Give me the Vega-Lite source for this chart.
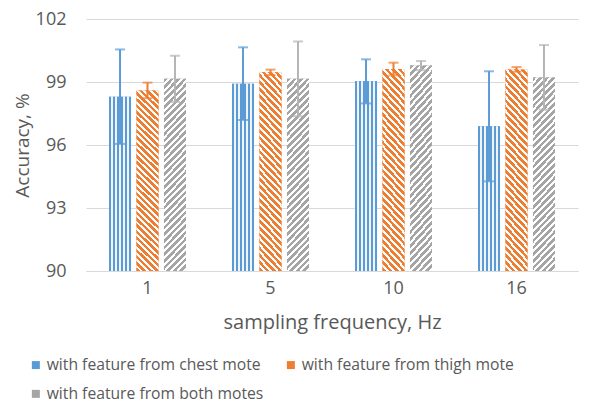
{
  "$schema": "https://vega.github.io/schema/vega-lite/v6.json",
  "width": 492,
  "height": 252,
  "autosize": "none",
  "padding": {"left": 86, "top": 19, "right": 20, "bottom": 132},
  "background": "white",
  "config": {
    "font": "Open Sans",
    "view": {"stroke": null},
    "axis": {"labelColor": "#595959", "titleColor": "#595959", "titleFontWeight": "normal", "labelFontSize": 18, "titleFontSize": 19}
  },
  "data": {
    "values": [
      {"freq": "1", "series": "with feature from chest mote", "acc": 98.3, "lo": 96.05, "hi": 100.55},
      {"freq": "1", "series": "with feature from thigh mote", "acc": 98.6, "lo": 98.23, "hi": 98.97},
      {"freq": "1", "series": "with feature from both motes", "acc": 99.15, "lo": 98.05, "hi": 100.25},
      {"freq": "5", "series": "with feature from chest mote", "acc": 98.92, "lo": 97.19, "hi": 100.65},
      {"freq": "5", "series": "with feature from thigh mote", "acc": 99.46, "lo": 99.33, "hi": 99.59},
      {"freq": "5", "series": "with feature from both motes", "acc": 99.15, "lo": 97.37, "hi": 100.93},
      {"freq": "10", "series": "with feature from chest mote", "acc": 99.03, "lo": 97.98, "hi": 100.08},
      {"freq": "10", "series": "with feature from thigh mote", "acc": 99.62, "lo": 99.32, "hi": 99.92},
      {"freq": "10", "series": "with feature from both motes", "acc": 99.78, "lo": 99.56, "hi": 100.0},
      {"freq": "16", "series": "with feature from chest mote", "acc": 96.89, "lo": 94.27, "hi": 99.51},
      {"freq": "16", "series": "with feature from thigh mote", "acc": 99.6, "lo": 99.49, "hi": 99.71},
      {"freq": "16", "series": "with feature from both motes", "acc": 99.22, "lo": 97.68, "hi": 100.76}
    ]
  },
  "encoding": {
    "x": {
      "field": "freq", "type": "ordinal", "sort": null,
      "scale": {"paddingInner": 0.33, "paddingOuter": 0.165},
      "title": "sampling frequency, Hz",
      "axis": {"labelAngle": 0, "domainColor": "#d9d9d9", "ticks": false, "labelPadding": 8, "titlePadding": 15, "grid": false, "titleFontSize": 20}
    },
    "xOffset": {"field": "series", "type": "nominal", "sort": null, "scale": {"paddingInner": 0.2, "paddingOuter": 0.1}},
    "y": {
      "field": "acc", "type": "quantitative", "title": "Accuracy, %",
      "scale": {"domain": [90, 102], "nice": false, "zero": false},
      "axis": {"values": [90, 93, 96, 99, 102], "grid": true, "gridColor": "#d9d9d9", "domain": false, "ticks": false, "tickSize": 0, "labelPadding": 20, "titlePadding": 3}
    }
  },
  "layer": [
    {
      "mark": {"type": "bar"},
      "encoding": {
        "y2": {"datum": 90},
        "fill": {
          "field": "series", "type": "nominal", "sort": null,
          "scale": {"range": ["#5b9bd5", "#ed7d31", "#a5a5a5"]},
          "legend": {
            "title": null, "orient": "none", "legendX": -58, "legendY": 338, "direction": "horizontal", "columns": 2,
            "columnPadding": 19, "rowPadding": 12, "labelFontSize": 15.7, "labelColor": "#595959", "labelOffset": 3,
            "symbolType": "square", "symbolSize": 64, "symbolStrokeWidth": 0, "labelLimit": 400
          }
        }
      }
    },
    {
      "mark": {"type": "bar"},
      "encoding": {
        "y2": {"datum": 90},
        "fill": {"condition": [
          {"test": "datum.series === 'with feature from chest mote'", "value": {"gradient": "linear", "x1": 0, "y1": 0, "x2": 1, "y2": 0, "stops": [
              {"offset": 0, "color": "#5b9bd5"}, {"offset": 0.075, "color": "#5b9bd5"}, {"offset": 0.075, "color": "#f0f5fb"}, {"offset": 0.185, "color": "#f0f5fb"},
              {"offset": 0.185, "color": "#5b9bd5"}, {"offset": 0.26, "color": "#5b9bd5"}, {"offset": 0.26, "color": "#f0f5fb"}, {"offset": 0.37, "color": "#f0f5fb"},
              {"offset": 0.37, "color": "#5b9bd5"}, {"offset": 0.445, "color": "#5b9bd5"}, {"offset": 0.445, "color": "#f0f5fb"}, {"offset": 0.555, "color": "#f0f5fb"},
              {"offset": 0.555, "color": "#5b9bd5"}, {"offset": 0.63, "color": "#5b9bd5"}, {"offset": 0.63, "color": "#f0f5fb"}, {"offset": 0.74, "color": "#f0f5fb"},
              {"offset": 0.74, "color": "#5b9bd5"}, {"offset": 0.815, "color": "#5b9bd5"}, {"offset": 0.815, "color": "#f0f5fb"}, {"offset": 0.925, "color": "#f0f5fb"},
              {"offset": 0.925, "color": "#5b9bd5"}, {"offset": 1, "color": "#5b9bd5"}
            ]}},
          {"test": "datum.series === 'with feature from thigh mote'", "value": {"gradient": "linear", "x1": 0, "y1": 1, "x2": 0.13, "y2": -0.1, "stops": [
              {"offset": 0, "color": "#ed7d31"}, {"offset": 0.0172, "color": "#ed7d31"}, {"offset": 0.0172, "color": "#ffffff"}, {"offset": 0.03125, "color": "#ffffff"},
              {"offset": 0.03125, "color": "#ed7d31"}, {"offset": 0.0485, "color": "#ed7d31"}, {"offset": 0.0485, "color": "#ffffff"}, {"offset": 0.0625, "color": "#ffffff"},
              {"offset": 0.0625, "color": "#ed7d31"}, {"offset": 0.0797, "color": "#ed7d31"}, {"offset": 0.0797, "color": "#ffffff"}, {"offset": 0.09375, "color": "#ffffff"},
              {"offset": 0.09375, "color": "#ed7d31"}, {"offset": 0.111, "color": "#ed7d31"}, {"offset": 0.111, "color": "#ffffff"}, {"offset": 0.125, "color": "#ffffff"},
              {"offset": 0.125, "color": "#ed7d31"}, {"offset": 0.1422, "color": "#ed7d31"}, {"offset": 0.1422, "color": "#ffffff"}, {"offset": 0.15625, "color": "#ffffff"},
              {"offset": 0.15625, "color": "#ed7d31"}, {"offset": 0.1735, "color": "#ed7d31"}, {"offset": 0.1735, "color": "#ffffff"}, {"offset": 0.1875, "color": "#ffffff"},
              {"offset": 0.1875, "color": "#ed7d31"}, {"offset": 0.2047, "color": "#ed7d31"}, {"offset": 0.2047, "color": "#ffffff"}, {"offset": 0.21875, "color": "#ffffff"},
              {"offset": 0.21875, "color": "#ed7d31"}, {"offset": 0.236, "color": "#ed7d31"}, {"offset": 0.236, "color": "#ffffff"}, {"offset": 0.25, "color": "#ffffff"},
              {"offset": 0.25, "color": "#ed7d31"}, {"offset": 0.2672, "color": "#ed7d31"}, {"offset": 0.2672, "color": "#ffffff"}, {"offset": 0.28125, "color": "#ffffff"},
              {"offset": 0.28125, "color": "#ed7d31"}, {"offset": 0.2985, "color": "#ed7d31"}, {"offset": 0.2985, "color": "#ffffff"}, {"offset": 0.3125, "color": "#ffffff"},
              {"offset": 0.3125, "color": "#ed7d31"}, {"offset": 0.3297, "color": "#ed7d31"}, {"offset": 0.3297, "color": "#ffffff"}, {"offset": 0.34375, "color": "#ffffff"},
              {"offset": 0.34375, "color": "#ed7d31"}, {"offset": 0.361, "color": "#ed7d31"}, {"offset": 0.361, "color": "#ffffff"}, {"offset": 0.375, "color": "#ffffff"},
              {"offset": 0.375, "color": "#ed7d31"}, {"offset": 0.3922, "color": "#ed7d31"}, {"offset": 0.3922, "color": "#ffffff"}, {"offset": 0.40625, "color": "#ffffff"},
              {"offset": 0.40625, "color": "#ed7d31"}, {"offset": 0.4235, "color": "#ed7d31"}, {"offset": 0.4235, "color": "#ffffff"}, {"offset": 0.4375, "color": "#ffffff"},
              {"offset": 0.4375, "color": "#ed7d31"}, {"offset": 0.4547, "color": "#ed7d31"}, {"offset": 0.4547, "color": "#ffffff"}, {"offset": 0.46875, "color": "#ffffff"},
              {"offset": 0.46875, "color": "#ed7d31"}, {"offset": 0.486, "color": "#ed7d31"}, {"offset": 0.486, "color": "#ffffff"}, {"offset": 0.5, "color": "#ffffff"},
              {"offset": 0.5, "color": "#ed7d31"}, {"offset": 0.5172, "color": "#ed7d31"}, {"offset": 0.5172, "color": "#ffffff"}, {"offset": 0.53125, "color": "#ffffff"},
              {"offset": 0.53125, "color": "#ed7d31"}, {"offset": 0.5485, "color": "#ed7d31"}, {"offset": 0.5485, "color": "#ffffff"}, {"offset": 0.5625, "color": "#ffffff"},
              {"offset": 0.5625, "color": "#ed7d31"}, {"offset": 0.5797, "color": "#ed7d31"}, {"offset": 0.5797, "color": "#ffffff"}, {"offset": 0.59375, "color": "#ffffff"},
              {"offset": 0.59375, "color": "#ed7d31"}, {"offset": 0.611, "color": "#ed7d31"}, {"offset": 0.611, "color": "#ffffff"}, {"offset": 0.625, "color": "#ffffff"},
              {"offset": 0.625, "color": "#ed7d31"}, {"offset": 0.6422, "color": "#ed7d31"}, {"offset": 0.6422, "color": "#ffffff"}, {"offset": 0.65625, "color": "#ffffff"},
              {"offset": 0.65625, "color": "#ed7d31"}, {"offset": 0.6735, "color": "#ed7d31"}, {"offset": 0.6735, "color": "#ffffff"}, {"offset": 0.6875, "color": "#ffffff"},
              {"offset": 0.6875, "color": "#ed7d31"}, {"offset": 0.7047, "color": "#ed7d31"}, {"offset": 0.7047, "color": "#ffffff"}, {"offset": 0.71875, "color": "#ffffff"},
              {"offset": 0.71875, "color": "#ed7d31"}, {"offset": 0.736, "color": "#ed7d31"}, {"offset": 0.736, "color": "#ffffff"}, {"offset": 0.75, "color": "#ffffff"},
              {"offset": 0.75, "color": "#ed7d31"}, {"offset": 0.7672, "color": "#ed7d31"}, {"offset": 0.7672, "color": "#ffffff"}, {"offset": 0.78125, "color": "#ffffff"},
              {"offset": 0.78125, "color": "#ed7d31"}, {"offset": 0.7985, "color": "#ed7d31"}, {"offset": 0.7985, "color": "#ffffff"}, {"offset": 0.8125, "color": "#ffffff"},
              {"offset": 0.8125, "color": "#ed7d31"}, {"offset": 0.8297, "color": "#ed7d31"}, {"offset": 0.8297, "color": "#ffffff"}, {"offset": 0.84375, "color": "#ffffff"},
              {"offset": 0.84375, "color": "#ed7d31"}, {"offset": 0.861, "color": "#ed7d31"}, {"offset": 0.861, "color": "#ffffff"}, {"offset": 0.875, "color": "#ffffff"},
              {"offset": 0.875, "color": "#ed7d31"}, {"offset": 0.8922, "color": "#ed7d31"}, {"offset": 0.8922, "color": "#ffffff"}, {"offset": 0.90625, "color": "#ffffff"},
              {"offset": 0.90625, "color": "#ed7d31"}, {"offset": 0.9235, "color": "#ed7d31"}, {"offset": 0.9235, "color": "#ffffff"}, {"offset": 0.9375, "color": "#ffffff"},
              {"offset": 0.9375, "color": "#ed7d31"}, {"offset": 0.9547, "color": "#ed7d31"}, {"offset": 0.9547, "color": "#ffffff"}, {"offset": 0.96875, "color": "#ffffff"},
              {"offset": 0.96875, "color": "#ed7d31"}, {"offset": 0.986, "color": "#ed7d31"}, {"offset": 0.986, "color": "#ffffff"}, {"offset": 1, "color": "#ffffff"}
            ]}}
        ], "value": {"gradient": "linear", "x1": 0, "y1": 0, "x2": 0.13, "y2": 1.1, "stops": [
              {"offset": 0, "color": "#a5a5a5"}, {"offset": 0.0172, "color": "#a5a5a5"}, {"offset": 0.0172, "color": "#ffffff"}, {"offset": 0.03125, "color": "#ffffff"},
              {"offset": 0.03125, "color": "#a5a5a5"}, {"offset": 0.0485, "color": "#a5a5a5"}, {"offset": 0.0485, "color": "#ffffff"}, {"offset": 0.0625, "color": "#ffffff"},
              {"offset": 0.0625, "color": "#a5a5a5"}, {"offset": 0.0797, "color": "#a5a5a5"}, {"offset": 0.0797, "color": "#ffffff"}, {"offset": 0.09375, "color": "#ffffff"},
              {"offset": 0.09375, "color": "#a5a5a5"}, {"offset": 0.111, "color": "#a5a5a5"}, {"offset": 0.111, "color": "#ffffff"}, {"offset": 0.125, "color": "#ffffff"},
              {"offset": 0.125, "color": "#a5a5a5"}, {"offset": 0.1422, "color": "#a5a5a5"}, {"offset": 0.1422, "color": "#ffffff"}, {"offset": 0.15625, "color": "#ffffff"},
              {"offset": 0.15625, "color": "#a5a5a5"}, {"offset": 0.1735, "color": "#a5a5a5"}, {"offset": 0.1735, "color": "#ffffff"}, {"offset": 0.1875, "color": "#ffffff"},
              {"offset": 0.1875, "color": "#a5a5a5"}, {"offset": 0.2047, "color": "#a5a5a5"}, {"offset": 0.2047, "color": "#ffffff"}, {"offset": 0.21875, "color": "#ffffff"},
              {"offset": 0.21875, "color": "#a5a5a5"}, {"offset": 0.236, "color": "#a5a5a5"}, {"offset": 0.236, "color": "#ffffff"}, {"offset": 0.25, "color": "#ffffff"},
              {"offset": 0.25, "color": "#a5a5a5"}, {"offset": 0.2672, "color": "#a5a5a5"}, {"offset": 0.2672, "color": "#ffffff"}, {"offset": 0.28125, "color": "#ffffff"},
              {"offset": 0.28125, "color": "#a5a5a5"}, {"offset": 0.2985, "color": "#a5a5a5"}, {"offset": 0.2985, "color": "#ffffff"}, {"offset": 0.3125, "color": "#ffffff"},
              {"offset": 0.3125, "color": "#a5a5a5"}, {"offset": 0.3297, "color": "#a5a5a5"}, {"offset": 0.3297, "color": "#ffffff"}, {"offset": 0.34375, "color": "#ffffff"},
              {"offset": 0.34375, "color": "#a5a5a5"}, {"offset": 0.361, "color": "#a5a5a5"}, {"offset": 0.361, "color": "#ffffff"}, {"offset": 0.375, "color": "#ffffff"},
              {"offset": 0.375, "color": "#a5a5a5"}, {"offset": 0.3922, "color": "#a5a5a5"}, {"offset": 0.3922, "color": "#ffffff"}, {"offset": 0.40625, "color": "#ffffff"},
              {"offset": 0.40625, "color": "#a5a5a5"}, {"offset": 0.4235, "color": "#a5a5a5"}, {"offset": 0.4235, "color": "#ffffff"}, {"offset": 0.4375, "color": "#ffffff"},
              {"offset": 0.4375, "color": "#a5a5a5"}, {"offset": 0.4547, "color": "#a5a5a5"}, {"offset": 0.4547, "color": "#ffffff"}, {"offset": 0.46875, "color": "#ffffff"},
              {"offset": 0.46875, "color": "#a5a5a5"}, {"offset": 0.486, "color": "#a5a5a5"}, {"offset": 0.486, "color": "#ffffff"}, {"offset": 0.5, "color": "#ffffff"},
              {"offset": 0.5, "color": "#a5a5a5"}, {"offset": 0.5172, "color": "#a5a5a5"}, {"offset": 0.5172, "color": "#ffffff"}, {"offset": 0.53125, "color": "#ffffff"},
              {"offset": 0.53125, "color": "#a5a5a5"}, {"offset": 0.5485, "color": "#a5a5a5"}, {"offset": 0.5485, "color": "#ffffff"}, {"offset": 0.5625, "color": "#ffffff"},
              {"offset": 0.5625, "color": "#a5a5a5"}, {"offset": 0.5797, "color": "#a5a5a5"}, {"offset": 0.5797, "color": "#ffffff"}, {"offset": 0.59375, "color": "#ffffff"},
              {"offset": 0.59375, "color": "#a5a5a5"}, {"offset": 0.611, "color": "#a5a5a5"}, {"offset": 0.611, "color": "#ffffff"}, {"offset": 0.625, "color": "#ffffff"},
              {"offset": 0.625, "color": "#a5a5a5"}, {"offset": 0.6422, "color": "#a5a5a5"}, {"offset": 0.6422, "color": "#ffffff"}, {"offset": 0.65625, "color": "#ffffff"},
              {"offset": 0.65625, "color": "#a5a5a5"}, {"offset": 0.6735, "color": "#a5a5a5"}, {"offset": 0.6735, "color": "#ffffff"}, {"offset": 0.6875, "color": "#ffffff"},
              {"offset": 0.6875, "color": "#a5a5a5"}, {"offset": 0.7047, "color": "#a5a5a5"}, {"offset": 0.7047, "color": "#ffffff"}, {"offset": 0.71875, "color": "#ffffff"},
              {"offset": 0.71875, "color": "#a5a5a5"}, {"offset": 0.736, "color": "#a5a5a5"}, {"offset": 0.736, "color": "#ffffff"}, {"offset": 0.75, "color": "#ffffff"},
              {"offset": 0.75, "color": "#a5a5a5"}, {"offset": 0.7672, "color": "#a5a5a5"}, {"offset": 0.7672, "color": "#ffffff"}, {"offset": 0.78125, "color": "#ffffff"},
              {"offset": 0.78125, "color": "#a5a5a5"}, {"offset": 0.7985, "color": "#a5a5a5"}, {"offset": 0.7985, "color": "#ffffff"}, {"offset": 0.8125, "color": "#ffffff"},
              {"offset": 0.8125, "color": "#a5a5a5"}, {"offset": 0.8297, "color": "#a5a5a5"}, {"offset": 0.8297, "color": "#ffffff"}, {"offset": 0.84375, "color": "#ffffff"},
              {"offset": 0.84375, "color": "#a5a5a5"}, {"offset": 0.861, "color": "#a5a5a5"}, {"offset": 0.861, "color": "#ffffff"}, {"offset": 0.875, "color": "#ffffff"},
              {"offset": 0.875, "color": "#a5a5a5"}, {"offset": 0.8922, "color": "#a5a5a5"}, {"offset": 0.8922, "color": "#ffffff"}, {"offset": 0.90625, "color": "#ffffff"},
              {"offset": 0.90625, "color": "#a5a5a5"}, {"offset": 0.9235, "color": "#a5a5a5"}, {"offset": 0.9235, "color": "#ffffff"}, {"offset": 0.9375, "color": "#ffffff"},
              {"offset": 0.9375, "color": "#a5a5a5"}, {"offset": 0.9547, "color": "#a5a5a5"}, {"offset": 0.9547, "color": "#ffffff"}, {"offset": 0.96875, "color": "#ffffff"},
              {"offset": 0.96875, "color": "#a5a5a5"}, {"offset": 0.986, "color": "#a5a5a5"}, {"offset": 0.986, "color": "#ffffff"}, {"offset": 1, "color": "#ffffff"}
            ]}}
      }
    },
    {
      "mark": {"type": "rule", "strokeWidth": 2},
      "encoding": {
        "y": {"field": "lo", "type": "quantitative", "title": "Accuracy, %"},
        "y2": {"field": "hi"},
        "stroke": {"condition": [
          {"test": "datum.series === 'with feature from chest mote'", "value": "#5b9bd5"},
          {"test": "datum.series === 'with feature from thigh mote'", "value": "#ed7d31"}
        ], "value": "#b4b4b4"}
      }
    },
    {
      "mark": {"type": "tick", "size": 10, "thickness": 2},
      "encoding": {
        "y": {"field": "hi", "type": "quantitative", "title": "Accuracy, %"},
        "color": {"condition": [
          {"test": "datum.series === 'with feature from chest mote'", "value": "#5b9bd5"},
          {"test": "datum.series === 'with feature from thigh mote'", "value": "#ed7d31"}
        ], "value": "#b4b4b4"}
      }
    },
    {
      "mark": {"type": "tick", "size": 10, "thickness": 2},
      "encoding": {
        "y": {"field": "lo", "type": "quantitative", "title": "Accuracy, %"},
        "color": {"condition": [
          {"test": "datum.series === 'with feature from chest mote'", "value": "#5b9bd5"},
          {"test": "datum.series === 'with feature from thigh mote'", "value": "#ed7d31"}
        ], "value": "#b4b4b4"}
      }
    }
  ]
}
